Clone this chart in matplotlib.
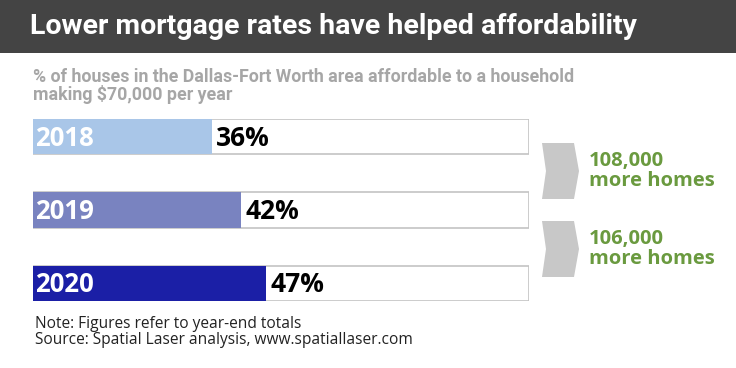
import matplotlib.pyplot as plt
from matplotlib.patches import Rectangle, Polygon
from matplotlib import font_manager

years = ["2018", "2019", "2020"]
shares = [36, 42, 47]
bar_colors = ["#a9c6e8", "#7983c0", "#1b1fa6"]
gains = ["108,000\nmore homes", "106,000\nmore homes"]

names = {f.name for f in font_manager.fontManager.ttflist}
cond = "Liberation Sans Narrow" if "Liberation Sans Narrow" in names else "Roboto"
plt.rcParams["font.family"] = ["Open Sans", "DejaVu Sans"]

W, H = 736, 368
fig = plt.figure(figsize=(W / 100, H / 100), dpi=100)
fig.patch.set_facecolor("white")


def fx(px):
    return px / W


def fy(py):
    return 1 - py / H


# title bar
fig.patches.append(Rectangle((0, fy(53)), 1, 53 / H, transform=fig.transFigure,
                             facecolor="#444444", edgecolor="none", zorder=0))
fig.text(fx(30), fy(27), "Lower mortgage rates have helped affordability",
         color="white", fontsize=20.5, fontweight="bold", family=cond, va="center")

fig.text(fx(33), fy(86), "% of houses in the Dallas-Fort Worth area affordable to a household\nmaking $70,000 per year",
         color="#a6a6a6", fontsize=12.8, fontweight="bold", family=cond, va="center",
         linespacing=1.0)

# bars
ax = fig.add_axes([fx(33), fy(301), fx(496), 182 / H])
ax.set_xlim(0, 100)
ax.set_ylim(2.24, -0.24)
ax.axis("off")
ypos = list(range(len(years)))
ax.barh(ypos, [100] * len(years), height=0.48, color="white", edgecolor="#c4c4c4",
        linewidth=1.2, zorder=1)
ax.barh(ypos, shares, height=0.48, color=bar_colors, edgecolor="none", zorder=2)
for y, yr, v in zip(ypos, years, shares):
    ax.text(0.5, y + 0.02, yr, color="white", fontsize=18.5, fontweight="bold",
            va="center", ha="left", zorder=3)
    ax.text(v + 0.8, y + 0.02, f"{v}%", color="black", fontsize=19, fontweight="bold",
            va="center", ha="left", zorder=3)

# chevrons and gains
for top, txt in zip([143, 221], gains):
    bot = top + 56
    mid = (top + bot) / 2
    pts = [(542, top), (574, top), (579, mid), (574, bot), (542, bot), (546, mid)]
    fig.patches.append(Polygon([(fx(a), fy(b)) for a, b in pts], closed=True,
                               transform=fig.transFigure, facecolor="#c8c8c8",
                               edgecolor="none"))
    fig.text(fx(589), fy(mid), txt, color="#6a9a3f", fontsize=14.5, fontweight="bold",
             va="center", ha="left", linespacing=1.0)

fig.text(fx(35), fy(332), "Note: Figures refer to year-end totals\nSource: Spatial Laser analysis, www.spatiallaser.com",
         color="#222222", fontsize=11.2, va="center", linespacing=1.0)

fig.savefig("out.png", dpi=100)
